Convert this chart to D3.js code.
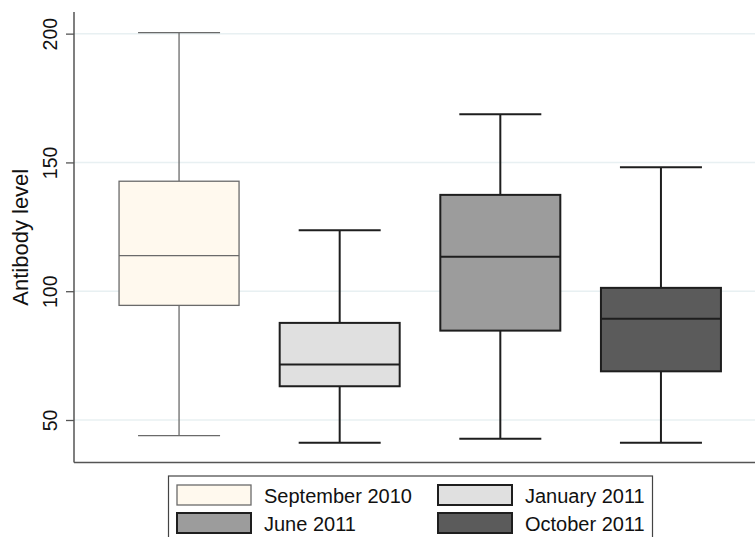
<html>
<head>
<meta charset="utf-8"/>
<script src="https://d3js.org/d3.v7.min.js"></script>
<style type="text/css">
body {
  margin: 0;
  overflow: hidden;
  background: #fff;
  font-family: "Liberation Sans", Arial, Helvetica, sans-serif;
}
</style>
</head>
<body>
<div id="v"></div>
<script type="text/javascript">
// box plot summaries
var categories   = ["September 2010", "January 2011", "June 2011", "October 2011"];
var lowWhisker   = [43.9, 41.2, 42.7, 41.2];
var q1           = [94.5, 63.1, 84.7, 68.9];
var median       = [113.8, 71.5, 113.4, 89.3];
var q3           = [142.7, 87.7, 137.4, 101.3];
var highWhisker  = [200.4, 123.7, 168.7, 148.1];
var yTicks       = [50, 100, 150, 200];

var fills   = ["#fff9ee", "#e0e0e0", "#9c9c9c", "#5b5b5b"];
var strokes = ["#6a6a6a", "#1e1e1e", "#1e1e1e", "#1e1e1e"];
var widths  = [1.3, 2, 2, 2];

var width = 755, height = 537;
var svg = d3.select("#v").append("svg")
  .attr("width", width)
  .attr("height", height);

var y = d3.scaleLinear().domain([33.5, 208.4]).range([462.5, 12]);
var x = d3.scalePoint().domain(categories).range([74, 766]).padding(0.654);
var boxW = 120, capW = 82;

// grid
svg.append("g").selectAll("line")
  .data(yTicks).enter()
  .append("line")
  .attr("x1", 74).attr("x2", width)
  .attr("y1", function(d) { return y(d); })
  .attr("y2", function(d) { return y(d); })
  .attr("stroke", "#e8f0f2")
  .attr("stroke-width", 1.5);

// y axis
var yAxis = svg.append("g")
  .attr("transform", "translate(74,0)")
  .call(d3.axisLeft(y).tickValues(yTicks).tickSize(8).tickPadding(0).tickFormat(d3.format("d")));
yAxis.select(".domain").remove();
yAxis.selectAll(".tick line").attr("stroke", "#555").attr("stroke-width", 1.3);
yAxis.selectAll(".tick text")
  .attr("font-size", 19.5)
  .attr("fill", "#111")
  .attr("font-family", "Liberation Sans, Arial, sans-serif")
  .attr("x", 0).attr("dy", 0)
  .attr("text-anchor", "middle")
  .attr("transform", "translate(-17,0) rotate(-90)");

// axis lines
svg.append("line").attr("x1", 74).attr("x2", 74).attr("y1", 12).attr("y2", 462.5)
  .attr("stroke", "#555").attr("stroke-width", 1.5);
svg.append("line").attr("x1", 74).attr("x2", width).attr("y1", 462.5).attr("y2", 462.5)
  .attr("stroke", "#555").attr("stroke-width", 1.5);

// y title
svg.append("text")
  .attr("transform", "translate(28," + ((12 + 462.5) / 2) + ") rotate(-90)")
  .attr("text-anchor", "middle")
  .attr("font-size", 22)
  .attr("fill", "#111")
  .text("Antibody level");

// boxes
var boxes = svg.append("g").selectAll("g.box")
  .data(categories).enter()
  .append("g")
  .attr("class", "box")
  .attr("stroke", function(d, i) { return strokes[i]; })
  .attr("stroke-width", function(d, i) { return widths[i]; });

// whiskers
boxes.append("line")
  .attr("x1", function(d) { return x(d); }).attr("x2", function(d) { return x(d); })
  .attr("y1", function(d, i) { return y(highWhisker[i]); })
  .attr("y2", function(d, i) { return y(q3[i]); });
boxes.append("line")
  .attr("x1", function(d) { return x(d); }).attr("x2", function(d) { return x(d); })
  .attr("y1", function(d, i) { return y(q1[i]); })
  .attr("y2", function(d, i) { return y(lowWhisker[i]); });
boxes.append("line")
  .attr("x1", function(d) { return x(d) - capW / 2; }).attr("x2", function(d) { return x(d) + capW / 2; })
  .attr("y1", function(d, i) { return y(highWhisker[i]); })
  .attr("y2", function(d, i) { return y(highWhisker[i]); });
boxes.append("line")
  .attr("x1", function(d) { return x(d) - capW / 2; }).attr("x2", function(d) { return x(d) + capW / 2; })
  .attr("y1", function(d, i) { return y(lowWhisker[i]); })
  .attr("y2", function(d, i) { return y(lowWhisker[i]); });

boxes.append("rect")
  .attr("x", function(d) { return x(d) - boxW / 2; })
  .attr("width", boxW)
  .attr("y", function(d, i) { return y(q3[i]); })
  .attr("height", function(d, i) { return y(q1[i]) - y(q3[i]); })
  .attr("fill", function(d, i) { return fills[i]; });
boxes.append("line")
  .attr("x1", function(d) { return x(d) - boxW / 2; }).attr("x2", function(d) { return x(d) + boxW / 2; })
  .attr("y1", function(d, i) { return y(median[i]); })
  .attr("y2", function(d, i) { return y(median[i]); });

// legend
var legend = svg.append("g");
legend.append("rect")
  .attr("x", 168.5).attr("y", 476)
  .attr("width", 484).attr("height", 80)
  .attr("fill", "#fff")
  .attr("stroke", "#444")
  .attr("stroke-width", 1.2);

var colX = [177, 438], rowY = [485, 513];
var items = legend.selectAll("g.item")
  .data(categories).enter()
  .append("g")
  .attr("class", "item")
  .attr("transform", function(d, i) { return "translate(" + colX[i % 2] + "," + rowY[Math.floor(i / 2)] + ")"; });
items.append("rect")
  .attr("width", 74).attr("height", 20)
  .attr("fill", function(d, i) { return fills[i]; })
  .attr("stroke", function(d, i) { return strokes[i]; })
  .attr("stroke-width", function(d, i) { return widths[i]; });
items.append("text")
  .attr("x", 87).attr("y", 17.5)
  .attr("font-size", 20)
  .attr("fill", "#111")
  .text(function(d) { return d; });
</script>
</body>
</html>
